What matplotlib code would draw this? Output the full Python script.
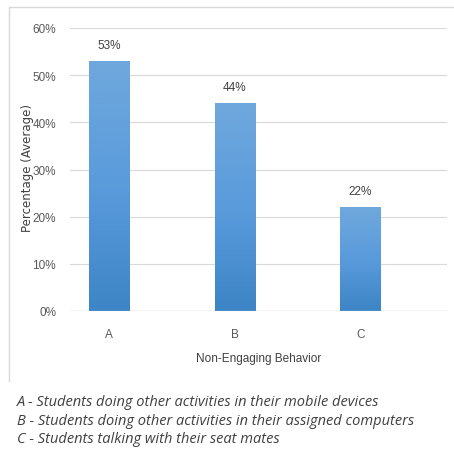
import numpy as np
import matplotlib.pyplot as plt
from matplotlib.lines import Line2D
from matplotlib.colors import LinearSegmentedColormap

categories = ['A', 'B', 'C']
values = [53, 44, 22]
yticks = [0, 10, 20, 30, 40, 50, 60]
notes = ['A - Students doing other activities in their mobile devices',
         'B - Students doing other activities in their assigned computers',
         'C - Students talking with their seat mates']

W, H = 454, 452
fig = plt.figure(figsize=(W / 100, H / 100), dpi=100)
narrow = ['Liberation Sans', 'DejaVu Sans']

# outer chart frame (left and top edges, right runs off the picture)
fig.lines.append(Line2D([9 / W, 9 / W, 1.01], [1 - 382 / H, 1 - 8 / H, 1 - 8 / H],
                        transform=fig.transFigure, color='#d9d9d9', linewidth=1))

ax = fig.add_axes([70 / W, 1 - 312 / H, (447 - 70) / W, (312 - 29) / H])
x = np.arange(len(categories))
bars = ax.bar(x, values, width=0.32, color='#5b9bd5', zorder=2)

# vertical gradient on bars
grad = np.linspace(0, 1, 256).reshape(-1, 1)
cmap = LinearSegmentedColormap.from_list('g', ['#3d85c6', '#5a9bdc', '#6fa8dc'])
for b in bars:
    im = ax.imshow(grad, cmap=cmap, aspect='auto', origin='lower',
                   extent=[b.get_x(), b.get_x() + b.get_width(), 0, b.get_height()],
                   zorder=3)
    im.set_clip_path(b)
ax.set_xlim(-0.31, 2.69)
ax.set_ylim(0, 60)

for xi, v in zip(x, values):
    ax.text(xi, v + 3.4, f'{v}%', ha='center', va='center', fontsize=8.5,
            color='#404040', family=narrow)

ax.set_yticks(yticks)
ax.set_yticklabels([f'{t}%' for t in yticks], family=narrow, fontsize=8.5, color='#595959')
ax.set_xticks(x)
ax.set_xticklabels(categories, family=narrow, fontsize=8.5, color='#595959')
ax.tick_params(length=0, pad=10)
ax.tick_params(axis='x', pad=12)
ax.grid(axis='y', color='#d9d9d9', linewidth=0.8, zorder=0)
for s in ax.spines.values():
    s.set_visible(False)
ax.axhline(0, color='#bfbfbf', linewidth=0.9, zorder=4)

ax.set_xlabel('Non-Engaging Behavior', family=narrow, fontsize=8.5, color='#404040', labelpad=9)
fig.text(28 / W, 1 - 168 / H, 'Percentage (Average)', rotation=90, ha='center', va='center',
         fontsize=8.5, color='#404040', family='DejaVu Sans')

for i, n in enumerate(notes):
    fig.text(17 / W, 1 - (403 + i * 18.5) / H, n, ha='left', va='center', fontsize=10.5,
             style='italic', color='#404040', family=['Open Sans', 'DejaVu Sans'])

fig.savefig('out.png', dpi=100)
